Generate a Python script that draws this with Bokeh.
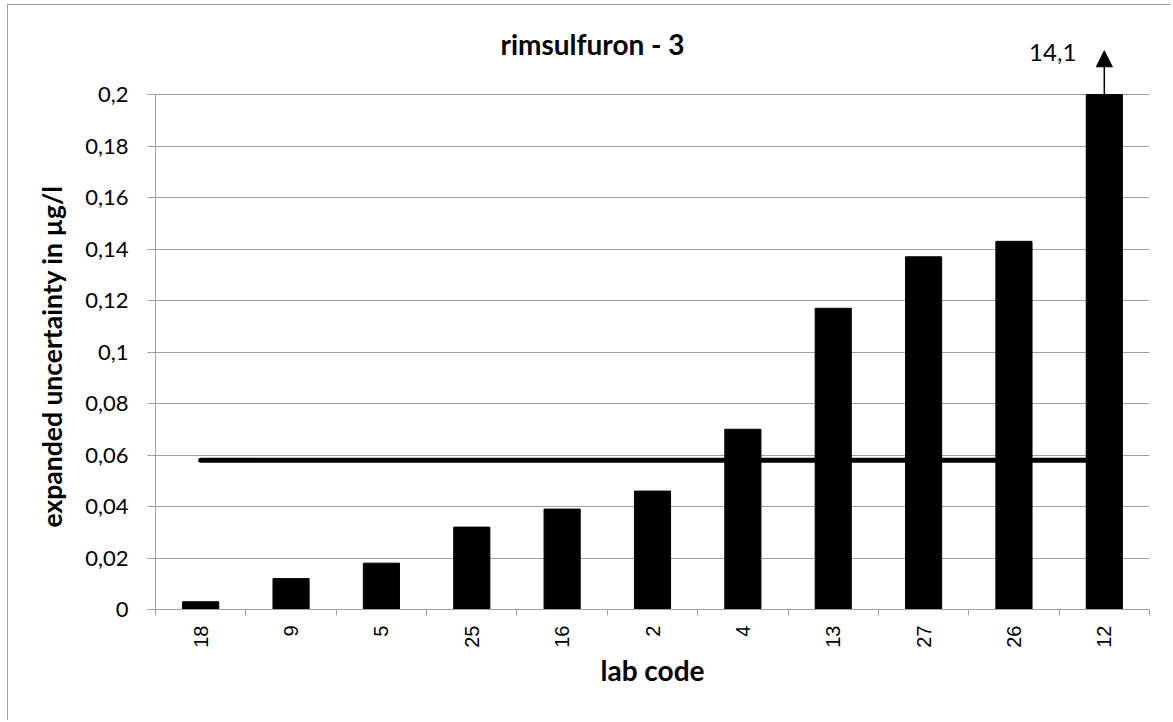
import math
from bokeh.plotting import figure
from bokeh.models import (Range1d, FixedTicker, CustomJSTickFormatter, Arrow,
                          NormalHead, Label, Title)
from bokeh.embed import file_html
from bokeh.resources import INLINE
from bokeh.core.properties import value

# ---- data ----
lab_codes = ["18", "9", "5", "25", "16", "2", "4", "13", "27", "26", "12"]
uncertainty = [0.003, 0.012, 0.018, 0.032, 0.039, 0.046, 0.070, 0.117, 0.137, 0.143, 14.1]
reference_value = 0.058
y_ticks = [0, 0.02, 0.04, 0.06, 0.08, 0.1, 0.12, 0.14, 0.16, 0.18, 0.2]
title_text = "rimsulfuron - 3"
x_label = "lab code"
y_label = "expanded uncertainty in µg/l"

GRID = "#a0a0a0"
BOLD_SIZE = "28px"
YMAX = y_ticks[-1]
n = len(lab_codes)
idx = list(range(n))
shown = [min(v, YMAX) for v in uncertainty]
clipped = [i for i, v in enumerate(uncertainty) if v > YMAX]

p = figure(width=1163, height=716,
           x_range=Range1d(-0.5, n - 0.5), y_range=Range1d(0, 0.228),
           output_backend="svg", toolbar_location=None,
           min_border_left=147, min_border_right=22,
           min_border_top=17, min_border_bottom=112)
p.outline_line_color = None
p.background_fill_color = "white"
p.border_fill_color = "white"
p.styles = {"margin-left": "7px", "margin-top": "4px",
            "border-left": "1px solid #a0a0a0", "border-top": "1px solid #a0a0a0"}

# grid
p.xgrid.visible = False
p.ygrid.ticker = FixedTicker(ticks=y_ticks)
p.ygrid.grid_line_color = GRID
p.ygrid.grid_line_width = 1

# y axis
ya = p.yaxis[0]
ya.ticker = FixedTicker(ticks=y_ticks)
ya.formatter = CustomJSTickFormatter(code="return tick.toString().replace('.', ',');")
ya.bounds = (0, YMAX)
ya.axis_line_color = GRID
ya.major_tick_line_color = GRID
ya.major_tick_out = 8
ya.major_tick_in = 0
ya.minor_tick_line_color = None
ya.major_label_standoff = 19
ya.major_label_text_font = "Lato"
ya.major_label_text_font_size = "22px"
ya.major_label_text_color = "black"

# y axis title, placed as a side-panel title so it can be centred on the 0..0.2 span
p.add_layout(Title(text=y_label, align="left", vertical_align="bottom",
                   offset=82, standoff=30, text_font="Lato",
                   text_font_style="bold", text_font_size="26.5px",
                   text_color="black"), "left")

# x axis
xa = p.xaxis[0]
xa.ticker = FixedTicker(ticks=idx, minor_ticks=[i - 0.5 for i in range(n + 1)])
xa.formatter = CustomJSTickFormatter(args=dict(labels=lab_codes),
                                     code="return labels[Math.round(tick)];")
xa.axis_line_color = GRID
xa.major_tick_out = 0
xa.major_tick_in = 0
xa.major_tick_line_color = None
xa.minor_tick_out = 6
xa.minor_tick_in = 0
xa.minor_tick_line_color = GRID
xa.major_label_orientation = math.pi / 2
xa.major_label_standoff = 10
xa.major_label_text_font = "Liberation Sans"
xa.major_label_text_font_size = "20px"
xa.major_label_text_color = "black"
xa.axis_label = x_label
xa.axis_label_text_font = "Lato"
xa.axis_label_text_font_style = "bold"
xa.axis_label_text_font_size = BOLD_SIZE
xa.axis_label_text_color = "black"
xa.axis_label_standoff = 2

# bars
p.vbar(x=idx, top=shown, width=0.4, fill_color="black", line_color="black")

# reference line
p.line(x=[idx[0], idx[-1]], y=[reference_value, reference_value],
       line_width=5, line_color="black", line_cap="round")

# clipped-value arrows and labels
for i in clipped:
    p.add_layout(Arrow(end=NormalHead(size=16, fill_color="black", line_color="black"),
                       x_start=i, y_start=YMAX, x_end=i, y_end=YMAX * 1.085,
                       line_width=1.5, line_color="black"))
    p.text(x=[i], y=[YMAX], text=[str(uncertainty[i]).replace(".", ",")],
           x_offset=-28, y_offset=-42, text_align="right", text_baseline="middle",
           text_font=value("Lato"), text_font_size="24px", text_color="black")

# title
p.add_layout(Label(x=437, y=566, x_units="screen", y_units="screen",
                   text=title_text, text_align="center", text_baseline="middle",
                   text_font="Lato", text_font_style="bold",
                   text_font_size=BOLD_SIZE, text_color="black"))

open("out.html", "w").write(file_html(p, INLINE))
